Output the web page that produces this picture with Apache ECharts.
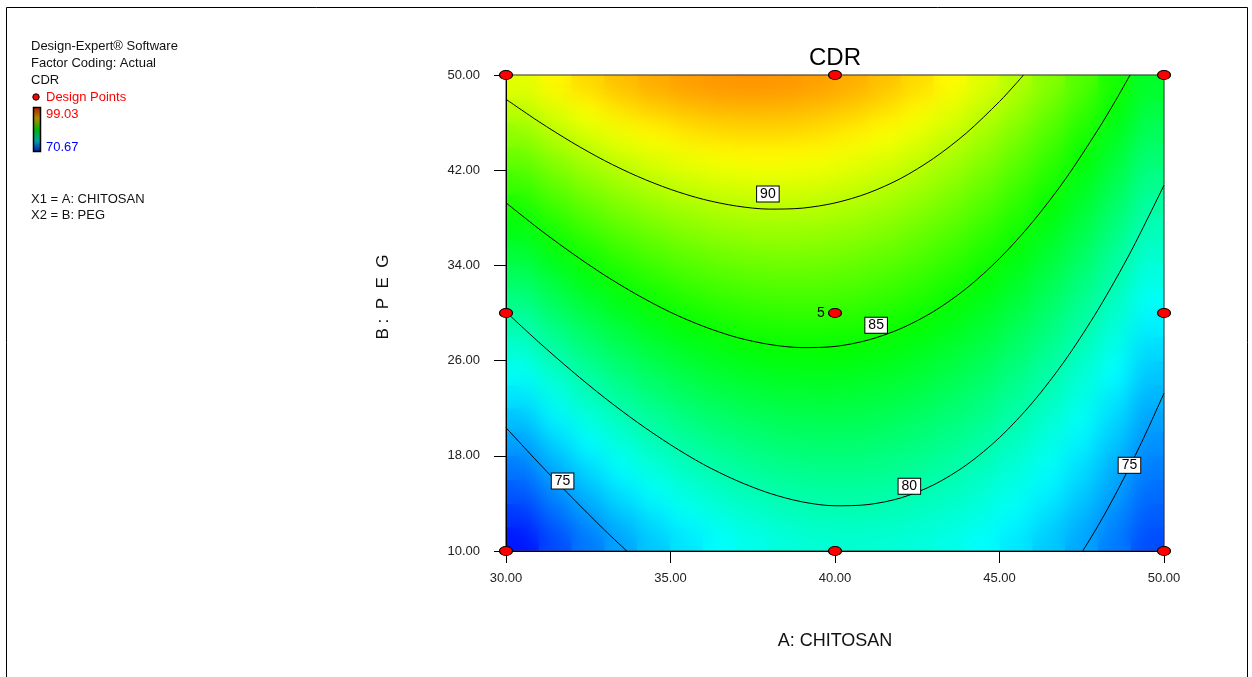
<!DOCTYPE html>
<html><head><meta charset="utf-8">
<script src="https://cdn.jsdelivr.net/npm/echarts@6/dist/echarts.min.js"></script>
<style>
html,body{margin:0;padding:0;background:#fff}
#wrap{position:relative;width:1252px;height:677px;overflow:hidden}
.layer{position:absolute;left:0;top:0;width:1252px;height:677px}
#clip{position:absolute;left:506px;top:75px;width:658px;height:476px;overflow:hidden}
#soft{position:absolute;left:-506px;top:-75px;width:1252px;height:677px;filter:blur(11px)}
</style>
</head><body>
<div id="wrap">
  <div id="sharp" class="layer"></div>
  <div id="clip"><div id="soft"></div></div>
  <div id="c" class="layer"></div>
</div>
<script>
// ---- data ----
const xTicks = [30, 35, 40, 45, 50];
const yTicks = [10, 18, 26, 34, 42, 50];
const cellA = [30.5,31.5,32.5,33.5,34.5,35.5,36.5,37.5,38.5,39.5,40.5,41.5,42.5,43.5,44.5,45.5,46.5,47.5,48.5,49.5];
const cellB = [11,13,15,17,19,21,23,25,27,29,31,33,35,37,39,41,43,45,47,49];
const cdr = [
[71.28,72.75,74.07,75.24,76.25,77.10,77.80,78.35,78.74,78.97,79.05,78.98,78.75,78.36,77.83,77.13,76.28,75.28,74.12,72.81],
[72.21,73.66,74.95,76.09,77.07,77.90,78.58,79.10,79.46,79.67,79.73,79.63,79.38,78.97,78.40,77.68,76.81,75.78,74.60,73.26],
[73.16,74.58,75.85,76.96,77.92,78.73,79.38,79.87,80.21,80.40,80.43,80.30,80.02,79.59,79.00,78.26,77.36,76.31,75.10,73.74],
[74.10,75.50,76.75,77.83,78.77,79.55,80.17,80.64,80.96,81.12,81.12,80.97,80.67,80.21,79.60,78.83,77.91,76.83,75.60,74.21],
[75.07,76.44,77.66,78.73,79.64,80.39,80.99,81.44,81.73,81.86,81.84,81.67,81.34,80.85,80.22,79.42,78.47,77.37,76.11,74.70],
[76.05,77.40,78.59,79.63,80.51,81.24,81.82,82.24,82.50,82.61,82.57,82.37,82.02,81.51,80.84,80.02,79.05,77.92,76.64,75.20],
[77.05,78.37,79.54,80.55,81.41,82.12,82.67,83.06,83.30,83.39,83.32,83.09,82.71,82.18,81.49,80.65,79.65,78.50,77.19,75.73],
[78.05,79.35,80.50,81.48,82.32,83.00,83.52,83.89,84.11,84.17,84.07,83.82,83.42,82.86,82.15,81.28,80.26,79.08,77.75,76.26],
[79.07,80.34,81.46,82.43,83.24,83.89,84.39,84.74,84.93,84.96,84.84,84.57,84.14,83.55,82.82,81.92,80.87,79.67,78.31,76.80],
[80.11,81.36,82.45,83.39,84.17,84.80,85.28,85.60,85.76,85.77,85.63,85.33,84.88,84.27,83.50,82.58,81.51,80.28,78.90,77.36],
[81.16,82.38,83.45,84.36,85.12,85.73,86.18,86.47,86.61,86.60,86.43,86.10,85.62,84.99,84.20,83.26,82.16,80.91,79.50,77.94],
[82.21,83.41,84.46,85.34,86.08,86.66,87.08,87.35,87.47,87.43,87.23,86.88,86.38,85.72,84.91,83.94,82.82,81.54,80.11,78.52],
[83.28,84.45,85.47,86.34,87.05,87.60,88.00,88.25,88.34,88.27,88.05,87.68,87.15,86.46,85.63,84.63,83.48,82.18,80.72,79.11],
[84.37,85.52,86.51,87.35,88.03,88.56,88.94,89.16,89.22,89.13,88.89,88.49,87.94,87.23,86.36,85.34,84.17,82.84,81.36,79.72],
[85.48,86.60,87.57,88.38,89.04,89.55,89.90,90.09,90.13,90.02,89.75,89.32,88.74,88.01,87.12,86.08,84.88,83.53,82.02,80.36],
[86.58,87.68,88.63,89.41,90.05,90.53,90.85,91.02,91.04,90.90,90.60,90.15,89.55,88.79,87.88,86.81,85.59,84.21,82.68,80.99],
[87.71,88.78,89.70,90.47,91.08,91.53,91.83,91.98,91.97,91.80,91.48,91.01,90.38,89.59,88.66,87.56,86.31,84.91,83.35,81.64],
[88.85,89.90,90.79,91.53,92.11,92.54,92.82,92.94,92.90,92.71,92.37,91.87,91.22,90.41,89.44,88.32,87.05,85.62,84.04,82.30],
[90.01,91.03,91.90,92.61,93.17,93.58,93.83,93.92,93.86,93.65,93.28,92.75,92.07,91.24,90.25,89.11,87.81,86.36,84.75,82.99],
[91.16,92.16,93.01,93.69,94.23,94.61,94.83,94.90,94.82,94.58,94.18,93.63,92.93,92.07,91.06,89.89,88.57,87.09,85.46,83.67]
];
const cdrMin = 70.67, cdrMax = 99.03;
const designPoints = [[30,10],[40,10],[50,10],[30,30],[40,30],[50,30],[30,50],[40,50],[50,50]];
const designReps   = [1,1,1,1,5,1,1,1,1];
const contour90 = [[30,47.96],[31,46.08],[32,44.35],[33,42.8],[34,41.48],[35,40.39],[36,39.55],[37,38.99],[38,38.73],[39,38.81],[40,39.25],[41,40.07],[42,41.31],[43,43.0],[44,45.14],[45,47.77],[45.5,49.27],[45.73,50]];
const contour85 = [[30,39.26],[31,37.07],[32,35.04],[33,33.17],[34,31.51],[35,30.06],[36,28.88],[37,27.96],[38,27.36],[39,27.09],[40,27.19],[41,27.72],[42,28.69],[43,30.13],[44,32.08],[45,34.58],[46,37.63],[47,41.24],[48,45.43],[48.5,47.72],[48.97,50]];
const contour80 = [[30,30.09],[31,27.54],[32,25.13],[33,22.87],[34,20.8],[35,18.93],[36,17.28],[37,15.93],[38,14.86],[39,14.13],[40,13.80],[41,13.9],[42,14.46],[43,15.56],[44,17.24],[45,19.53],[46,22.46],[47,26.05],[48,30.3],[49,35.2],[50,40.74]];
const contour75left  = [[30,20.36],[31,17.38],[32,14.51],[33,11.75],[33.67,10]];
const contour75right = [[47.53,10],[48,12.14],[48.5,14.63],[49,17.32],[49.5,20.2],[50,23.26]];
const contourLabels = [[37.96,40.0,'90'],[41.25,28.97,'85'],[42.26,15.44,'80'],[31.72,15.88,'75'],[48.95,17.2,'75']];

// ---- chart ----
const FONT = '"Liberation Sans", Arial, sans-serif';
const G = {left: 506, top: 75, width: 658, height: 476};
const heat = [];
cdr.forEach((row, j) => row.forEach((v, i) => heat.push([i, j, v])));

// colour field (drawn twice: a crisp copy and a softened copy above it)
const heatOption = {
  animation: false,
  grid: Object.assign({show: false}, G),
  xAxis: {type: 'category', data: cellA, show: false},
  yAxis: {type: 'category', data: cellB, show: false},
  visualMap: {
    show: false, type: 'continuous', min: cdrMin, max: cdrMax, dimension: 2,
    inRange: {color: ['#0000ff', '#00ffff', '#00ff00', '#ffff00', '#ff0000']}
  },
  series: [{type: 'heatmap', data: heat, silent: true, progressive: 0, emphasis: {disabled: true}}]
};
echarts.init(document.getElementById('sharp')).setOption(heatOption);
echarts.init(document.getElementById('soft')).setOption(heatOption);

function contourSeries(d) {
  return {type: 'line', data: d, smooth: 0.3, showSymbol: false, symbol: 'none', silent: true,
    clip: true, lineStyle: {color: '#000', width: 1}, z: 5};
}
const chart = echarts.init(document.getElementById('c'));
chart.setOption({
  animation: false,
  backgroundColor: 'transparent',
  textStyle: {fontFamily: FONT},
  grid: Object.assign({show: true, backgroundColor: 'transparent', borderColor: '#333', borderWidth: 1}, G),
  xAxis: {type: 'value', min: 30, max: 50, interval: 5, z: 6,
     axisLine: {onZero: false, lineStyle: {color: '#000', width: 1}},
     axisTick: {show: true, length: 12, lineStyle: {color: '#000'}},
     axisLabel: {formatter: v => v.toFixed(2), fontSize: 13, color: '#222', margin: 21, fontFamily: FONT},
     splitLine: {show: false},
     name: 'A: CHITOSAN', nameLocation: 'middle', nameGap: 81,
     nameTextStyle: {fontSize: 18, color: '#111', fontFamily: FONT}},
  yAxis: {type: 'value', min: 10, max: 50, z: 6,
     axisLine: {onZero: false, lineStyle: {color: '#000', width: 1}},
     axisTick: {show: true, length: 12, lineStyle: {color: '#000'}, customValues: yTicks},
     axisLabel: {formatter: v => v.toFixed(2), fontSize: 13, color: '#222', margin: 26, fontFamily: FONT, customValues: yTicks},
     splitLine: {show: false},
     name: 'B :  P  E  G', nameLocation: 'middle', nameGap: 114, nameRotate: 90,
     nameTextStyle: {fontSize: 17, color: '#111', fontFamily: FONT, padding: [0, 0, 0, 32]}},
  series: [
    contourSeries(contour90), contourSeries(contour85), contourSeries(contour80),
    contourSeries(contour75left), contourSeries(contour75right),
    {type: 'scatter', silent: true, clip: false, z: 8, symbolSize: 0,
     itemStyle: {opacity: 1},
     data: contourLabels.map(d => ({value: [d[0], d[1]], name: d[2]})),
     label: {show: true, position: 'inside', formatter: p => p.name, fontSize: 14, color: '#000',
       backgroundColor: '#ffffff', borderColor: '#000', borderWidth: 1, padding: [1, 3, 0, 3],
       fontFamily: FONT, opacity: 1}},
    {type: 'scatter', silent: true, clip: false, z: 10,
     symbol: 'circle', symbolSize: [13, 9],
     itemStyle: {color: '#ff0000', borderColor: '#000', borderWidth: 1, opacity: 1},
     data: designPoints.map((p, k) => ({value: p,
       label: {show: designReps[k] > 1, position: 'left', distance: 3, formatter: String(designReps[k]),
         fontSize: 14, color: '#000', fontFamily: FONT}}))}
  ],
  graphic: [
    {type: 'rect', shape: {x: 6.5, y: 7.5, width: 1241, height: 700}, style: {fill: 'none', stroke: '#000', lineWidth: 1}, silent: true},
    {type: 'text', x: 835, y: 58, style: {text: 'CDR', fontSize: 24, fontFamily: FONT, fill: '#000', align: 'center', verticalAlign: 'middle'}},
    {type: 'text', x: 31, y: 46.5, style: {text: 'Design-Expert® Software', fontSize: 13, fontFamily: FONT, fill: '#111', verticalAlign: 'middle'}},
    {type: 'text', x: 31, y: 63.3, style: {text: 'Factor Coding: Actual', fontSize: 13, fontFamily: FONT, fill: '#111', verticalAlign: 'middle'}},
    {type: 'text', x: 31, y: 80, style: {text: 'CDR', fontSize: 13, fontFamily: FONT, fill: '#111', verticalAlign: 'middle'}},
    {type: 'circle', shape: {cx: 36, cy: 97, r: 3.2}, style: {fill: '#ff0000', stroke: '#000', lineWidth: 1}},
    {type: 'text', x: 46, y: 97, style: {text: 'Design Points', fontSize: 13, fontFamily: FONT, fill: '#ff0000', verticalAlign: 'middle'}},
    {type: 'rect', shape: {x: 33.5, y: 107.5, width: 7, height: 44},
     style: {stroke: '#000', lineWidth: 1.5, fill: new echarts.graphic.LinearGradient(0, 0, 0, 1, [
       {offset: 0, color: '#b01800'}, {offset: 0.25, color: '#b08a00'}, {offset: 0.5, color: '#00b400'},
       {offset: 0.75, color: '#00a0a8'}, {offset: 1, color: '#0018b0'}])}},
    {type: 'text', x: 46, y: 114, style: {text: cdrMax.toFixed(2), fontSize: 13, fontFamily: FONT, fill: '#ff0000', verticalAlign: 'middle'}},
    {type: 'text', x: 46, y: 147.5, style: {text: cdrMin.toFixed(2), fontSize: 13, fontFamily: FONT, fill: '#0000ff', verticalAlign: 'middle'}},
    {type: 'text', x: 31, y: 199, style: {text: 'X1 = A: CHITOSAN', fontSize: 13, fontFamily: FONT, fill: '#111', verticalAlign: 'middle'}},
    {type: 'text', x: 31, y: 215.5, style: {text: 'X2 = B: PEG', fontSize: 13, fontFamily: FONT, fill: '#111', verticalAlign: 'middle'}}
  ]
});
</script></body></html>
